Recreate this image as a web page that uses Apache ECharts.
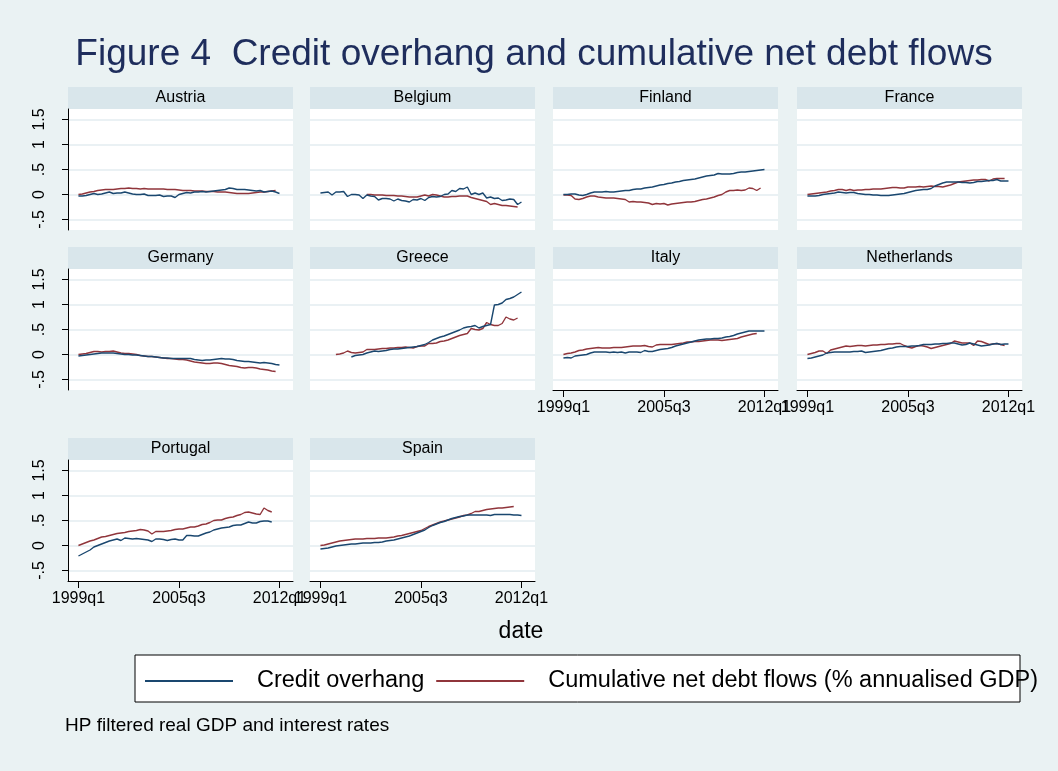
<!DOCTYPE html>
<html>
<head>
<meta charset="utf-8">
<script src="https://cdn.jsdelivr.net/npm/echarts@6/dist/echarts.min.js"></script>
<style>
  html, body { margin: 0; padding: 0; background: #eaf2f3; }
  #chart { width: 1058px; height: 771px; }
</style>
</head>
<body>
<div id="chart"></div>
<script>
// quarters 1999q1 .. 2012q1 -> index 0 .. 52
const tickIndex = [0, 26, 52];
const tickLabels = ["1999q1", "2005q3", "2012q1"];
const yTicks = [-0.5, 0, 0.5, 1, 1.5];
const countries = ["Austria", "Belgium", "Finland", "France", "Germany", "Greece", "Italy", "Netherlands", "Portugal", "Spain"];
const seriesNames = ["Credit overhang", "Cumulative net debt flows (% annualised GDP)"];

const creditAustria = [-0.03,-0.03,-0.02,0.00,0.02,0.00,0.01,0.03,0.05,0.02, 0.03,0.03,0.05,0.03,0.01,0.00,0.00,0.01,-0.02,-0.02, -0.02,-0.01,-0.04,-0.03,-0.03,-0.06,0.00,0.02,0.04,0.03, 0.05,0.05,0.06,0.05,0.06,0.07,0.08,0.09,0.10,0.13, 0.12,0.10,0.10,0.10,0.09,0.08,0.07,0.08,0.05,0.06, 0.07,0.05,0.02];
const debtAustria = [0.00,0.01,0.03,0.05,0.06,0.08,0.09,0.10,0.10,0.10, 0.11,0.12,0.12,0.13,0.12,0.12,0.11,0.12,0.11,0.11, 0.11,0.11,0.11,0.10,0.10,0.10,0.09,0.08,0.08,0.08, 0.07,0.07,0.07,0.06,0.06,0.06,0.05,0.05,0.05,0.04, 0.03,0.02,0.02,0.02,0.02,0.03,0.04,0.05,0.05,0.06, 0.07,0.08,null];

const creditBelgium = [0.03,0.04,0.05,-0.01,0.05,0.05,0.06,-0.04,0.00,0.00, -0.01,-0.08,-0.01,-0.03,-0.04,-0.11,-0.08,-0.08,-0.09,-0.13, -0.09,-0.12,-0.13,-0.15,-0.10,-0.11,-0.08,-0.12,-0.06,-0.04, -0.05,-0.04,0.00,0.01,0.08,0.06,0.12,0.11,0.15,0.00, 0.03,0.00,0.03,-0.07,-0.05,-0.08,-0.07,-0.12,-0.11,-0.09, -0.10,-0.20,-0.15];
const debtBelgium = [null,null,null,null,null,null,null,null,null,null, null,null,0.00,0.00,-0.01,-0.01,-0.01,-0.02,-0.02,-0.02, -0.03,-0.03,-0.04,-0.05,-0.05,-0.05,-0.03,-0.01,-0.03,0.00, -0.01,-0.03,-0.05,-0.05,-0.04,-0.04,-0.03,-0.03,-0.03,-0.06, -0.08,-0.10,-0.12,-0.14,-0.20,-0.18,-0.20,-0.22,-0.22,-0.23, -0.24,-0.25,null];

const creditFinland = [0.00,0.00,0.01,0.01,-0.01,-0.02,0.00,0.03,0.05,0.05, 0.05,0.06,0.05,0.05,0.06,0.07,0.08,0.08,0.10,0.11, 0.11,0.13,0.14,0.15,0.17,0.19,0.20,0.22,0.23,0.25, 0.26,0.28,0.29,0.30,0.31,0.33,0.35,0.37,0.38,0.39, 0.42,0.41,0.41,0.41,0.42,0.44,0.45,0.45,0.46,0.47, 0.48,0.49,0.50];
const debtFinland = [-0.01,-0.01,-0.02,-0.09,-0.10,-0.08,-0.05,-0.03,-0.03,-0.05, -0.06,-0.07,-0.07,-0.07,-0.08,-0.09,-0.10,-0.15,-0.14,-0.15, -0.15,-0.16,-0.17,-0.20,-0.18,-0.19,-0.18,-0.21,-0.19,-0.18, -0.17,-0.16,-0.15,-0.15,-0.14,-0.12,-0.10,-0.09,-0.07,-0.05, -0.02,0.00,0.05,0.08,0.08,0.09,0.08,0.09,0.13,0.12, 0.08,0.13,null];

const creditFrance = [-0.03,-0.03,-0.03,-0.02,0.00,0.01,0.02,0.03,0.05,0.04, 0.03,0.04,0.04,0.02,0.01,0.00,0.00,-0.01,-0.01,-0.02, -0.02,-0.02,-0.01,0.00,0.01,0.02,0.04,0.06,0.08,0.09, 0.10,0.10,0.12,0.17,0.20,0.23,0.25,0.25,0.25,0.25, 0.24,0.24,0.23,0.24,0.26,0.26,0.27,0.28,0.28,0.30, 0.27,0.27,0.27];
const debtFrance = [0.00,0.01,0.02,0.03,0.04,0.05,0.07,0.08,0.10,0.10, 0.08,0.10,0.08,0.09,0.09,0.10,0.10,0.11,0.11,0.11, 0.12,0.13,0.14,0.14,0.13,0.13,0.15,0.15,0.15,0.16, 0.15,0.16,0.17,0.16,0.16,0.15,0.17,0.19,0.22,0.25, 0.26,0.27,0.28,0.29,0.29,0.30,0.30,0.27,0.31,0.32, 0.32,0.32,null];

const creditGermany = [-0.03,-0.02,-0.01,0.00,0.01,0.02,0.03,0.03,0.03,0.03, 0.02,0.01,0.00,0.00,-0.01,-0.01,-0.02,-0.03,-0.04,-0.04, -0.05,-0.06,-0.07,-0.07,-0.08,-0.08,-0.08,-0.08,-0.08,-0.08, -0.10,-0.11,-0.12,-0.11,-0.11,-0.10,-0.09,-0.08,-0.09,-0.09, -0.10,-0.12,-0.13,-0.14,-0.14,-0.15,-0.16,-0.17,-0.16,-0.17, -0.18,-0.20,-0.21];
const debtGermany = [0.00,0.01,0.02,0.04,0.06,0.06,0.05,0.06,0.06,0.07, 0.05,0.03,0.02,0.02,0.01,0.00,-0.02,-0.03,-0.04,-0.04, -0.05,-0.06,-0.07,-0.08,-0.08,-0.09,-0.10,-0.10,-0.11,-0.13, -0.15,-0.16,-0.17,-0.18,-0.18,-0.17,-0.17,-0.18,-0.20,-0.22, -0.23,-0.24,-0.26,-0.27,-0.26,-0.26,-0.27,-0.29,-0.30,-0.31, -0.33,-0.34,null];

const creditGreece = [null,null,null,null,null,null,null,null,-0.05,-0.02, -0.01,0.00,0.03,0.05,0.07,0.06,0.07,0.08,0.10,0.11, 0.11,0.12,0.13,0.14,0.15,0.16,0.18,0.20,0.24,0.29, 0.32,0.35,0.37,0.40,0.43,0.46,0.49,0.53,0.55,0.56, 0.58,0.53,0.56,0.58,0.60,0.99,1.00,1.03,1.10,1.12, 1.15,1.20,1.25];
const debtGreece = [null,null,null,null,0.00,0.01,0.03,0.07,0.04,0.03, 0.04,0.05,0.10,0.10,0.10,0.11,0.12,0.12,0.13,0.13, 0.14,0.14,0.15,0.14,0.13,0.16,0.17,0.17,0.22,0.22, 0.23,0.26,0.27,0.29,0.32,0.35,0.38,0.40,0.42,0.52, 0.50,0.49,0.52,0.64,0.60,0.58,0.58,0.62,0.75,0.71, 0.69,0.73,null];

const creditItaly = [-0.07,-0.06,-0.07,-0.03,-0.02,-0.01,0.00,0.03,0.05,0.05, 0.05,0.05,0.04,0.05,0.04,0.05,0.03,0.05,0.05,0.05, 0.04,0.08,0.06,0.06,0.08,0.10,0.11,0.12,0.14,0.17, 0.19,0.21,0.23,0.25,0.27,0.29,0.30,0.31,0.31,0.32, 0.32,0.33,0.35,0.36,0.38,0.41,0.43,0.45,0.47,0.47, 0.47,0.47,0.47];
const debtItaly = [0.00,0.02,0.03,0.05,0.08,0.09,0.11,0.12,0.13,0.14, 0.13,0.13,0.13,0.14,0.14,0.14,0.15,0.16,0.17,0.17, 0.17,0.18,0.16,0.15,0.19,0.20,0.20,0.20,0.20,0.21, 0.22,0.23,0.25,0.25,0.26,0.26,0.27,0.28,0.29,0.29, 0.29,0.28,0.29,0.30,0.31,0.32,0.35,0.37,0.39,0.41, 0.42,null,null];

const creditNetherlands = [-0.08,-0.07,-0.05,-0.03,-0.01,0.03,0.04,0.05,0.05,0.05, 0.05,0.05,0.06,0.06,0.07,0.04,0.05,0.06,0.07,0.08, 0.10,0.12,0.13,0.15,0.16,0.16,0.16,0.17,0.17,0.18, 0.20,0.20,0.20,0.21,0.21,0.22,0.22,0.23,0.23,0.21, 0.19,0.20,0.23,0.21,0.19,0.17,0.18,0.19,0.21,0.22, 0.20,0.21,0.21];
const debtNetherlands = [0.00,0.02,0.04,0.07,0.07,0.02,0.09,0.11,0.13,0.15, 0.17,0.16,0.17,0.18,0.18,0.17,0.18,0.19,0.19,0.20, 0.20,0.21,0.21,0.22,0.22,0.18,0.15,0.13,0.16,0.18, 0.17,0.15,0.12,0.14,0.16,0.18,0.20,0.22,0.27,0.25, 0.23,0.23,0.23,0.18,0.27,0.26,0.23,0.20,0.21,0.22, 0.20,0.18,null];

const creditPortugal = [-0.21,-0.17,-0.13,-0.09,-0.03,0.00,0.03,0.06,0.09,0.11, 0.13,0.10,0.15,0.14,0.13,0.14,0.13,0.12,0.11,0.08, 0.13,0.13,0.12,0.10,0.12,0.13,0.11,0.11,0.20,0.20, 0.19,0.19,0.22,0.25,0.27,0.31,0.33,0.35,0.36,0.37, 0.40,0.41,0.41,0.44,0.47,0.45,0.45,0.48,0.49,0.49, 0.47,null,null];
const debtPortugal = [0.00,0.03,0.06,0.09,0.11,0.14,0.17,0.18,0.20,0.22, 0.24,0.25,0.26,0.28,0.29,0.30,0.32,0.31,0.29,0.23, 0.28,0.28,0.28,0.29,0.30,0.32,0.33,0.33,0.35,0.37, 0.37,0.39,0.42,0.43,0.46,0.50,0.51,0.51,0.54,0.56, 0.57,0.60,0.62,0.66,0.67,0.65,0.63,0.62,0.75,0.70, 0.67,null,null];

const creditSpain = [-0.07,-0.06,-0.05,-0.03,-0.01,0.00,0.01,0.02,0.03,0.03, 0.04,0.05,0.05,0.05,0.06,0.06,0.07,0.09,0.10,0.11, 0.13,0.15,0.17,0.19,0.22,0.25,0.28,0.31,0.36,0.40, 0.43,0.46,0.48,0.51,0.54,0.56,0.58,0.59,0.61,0.61, 0.61,0.61,0.61,0.61,0.60,0.62,0.62,0.62,0.62,0.62, 0.61,0.61,0.60];
const debtSpain = [0.00,0.01,0.03,0.05,0.07,0.09,0.10,0.11,0.12,0.13, 0.13,0.13,0.14,0.14,0.14,0.15,0.15,0.15,0.16,0.17, 0.19,0.20,0.22,0.24,0.26,0.28,0.30,0.34,0.38,0.41, 0.44,0.47,0.49,0.51,0.53,0.55,0.57,0.60,0.61,0.64, 0.68,0.68,0.70,0.72,0.73,0.74,0.75,0.75,0.76,0.77, 0.78,null,null];

const creditSeries = [creditAustria, creditBelgium, creditFinland, creditFrance, creditGermany, creditGreece, creditItaly, creditNetherlands, creditPortugal, creditSpain];
const debtSeries = [debtAustria, debtBelgium, debtFinland, debtFrance, debtGermany, debtGreece, debtItaly, debtNetherlands, debtPortugal, debtSpain];

const font = "'Liberation Sans', Arial, sans-serif";
const blue = "#1a476f";
const red = "#90353b";
const colLeft = [68, 310, 553, 797];
const rowTop = [109, 269, 460];
const plotW = 225, plotH = 121, headH = 22;
const withXAxis = ["Italy", "Netherlands", "Portugal", "Spain"];

const chart = echarts.init(document.getElementById("chart"));

const grids = [], xAxes = [], yAxes = [], series = [], graphics = [];

countries.forEach((name, k) => {
  const col = k % 4, row = Math.floor(k / 4);
  const left = colLeft[col], top = rowTop[row];
  const showX = withXAxis.includes(name);
  const showY = col === 0;

  grids.push({
    left: left, top: top, width: plotW, height: plotH,
    show: true, backgroundColor: "#ffffff", borderWidth: 0
  });

  xAxes.push({
    gridIndex: k, type: "value", min: -2.7, max: 55.5,
    axisLine: { show: showX, onZero: false, lineStyle: { color: "#000", width: 1 } },
    axisTick: { show: showX, length: 7, customValues: tickIndex, lineStyle: { color: "#000" } },
    axisLabel: {
      show: showX, customValues: tickIndex, margin: 10,
      fontFamily: font, fontSize: 16, color: "#000",
      formatter: v => tickLabels[tickIndex.indexOf(v)] || ""
    },
    splitLine: { show: false }
  });

  yAxes.push({
    gridIndex: k, type: "value", min: -0.71, max: 1.71,
    axisLine: { show: showY, onZero: false, lineStyle: { color: "#000", width: 1 } },
    axisTick: { show: showY, length: 6, customValues: yTicks, lineStyle: { color: "#000" } },
    axisLabel: {
      show: showY, customValues: yTicks, rotate: 90, margin: 20,
      fontFamily: font, fontSize: 16, color: "#000",
      formatter: v => String(v).replace(/^0\./, ".").replace(/^-0\./, "-.")
    },
    splitLine: { show: true, lineStyle: { color: "#e3edf0", width: 1.5 } }
  });

  const pairs = arr => arr.map((v, i) => [i, v]);
  series.push({
    name: seriesNames[0], type: "line", xAxisIndex: k, yAxisIndex: k,
    data: pairs(creditSeries[k]), symbol: "none", showSymbol: false,
    lineStyle: { color: blue, width: 1.4 }, itemStyle: { color: blue },
    z: 3
  });
  series.push({
    name: seriesNames[1], type: "line", xAxisIndex: k, yAxisIndex: k,
    data: pairs(debtSeries[k]), symbol: "none", showSymbol: false,
    lineStyle: { color: red, width: 1.4 }, itemStyle: { color: red },
    z: 2
  });

  graphics.push({
    type: "rect", shape: { x: left, y: top - headH, width: plotW, height: headH },
    style: { fill: "#d9e6eb" }, silent: true
  });
  graphics.push({
    type: "text", x: left + plotW / 2, y: top - headH / 2,
    style: { text: name, fontFamily: font, fontSize: 16, fill: "#000", align: "center", verticalAlign: "middle" },
    silent: true
  });
});

// figure title, axis title, legend frame and note
graphics.push({
  type: "text", x: 534, y: 55,
  style: { text: "Figure 4  Credit overhang and cumulative net debt flows", fontFamily: font, fontSize: 37, fill: "#1e2d5c", align: "center", verticalAlign: "middle" }
});
graphics.push({
  type: "text", x: 521, y: 632,
  style: { text: "date", fontFamily: font, fontSize: 23, fill: "#000", align: "center", verticalAlign: "middle" }
});
graphics.push({
  type: "rect", shape: { x: 135, y: 655, width: 885, height: 47 },
  style: { fill: "#ffffff", stroke: "#000", lineWidth: 1 }, z: 0
});
graphics.push({
  type: "text", x: 65, y: 726,
  style: { text: "HP filtered real GDP and interest rates", fontFamily: font, fontSize: 19, fill: "#000", align: "left", verticalAlign: "middle" }
});

chart.setOption({
  backgroundColor: "#eaf2f3",
  animation: false,
  grid: grids,
  xAxis: xAxes,
  yAxis: yAxes,
  series: series,
  graphic: { elements: graphics },
  legend: {
    data: seriesNames,
    left: 140, top: 664, z: 5,
    icon: "rect", itemWidth: 88, itemHeight: 2, itemGap: 12,
    textStyle: { fontFamily: font, fontSize: 23.5, color: "#000", padding: [0, 0, 0, 19] }
  }
});
</script>
</body>
</html>
